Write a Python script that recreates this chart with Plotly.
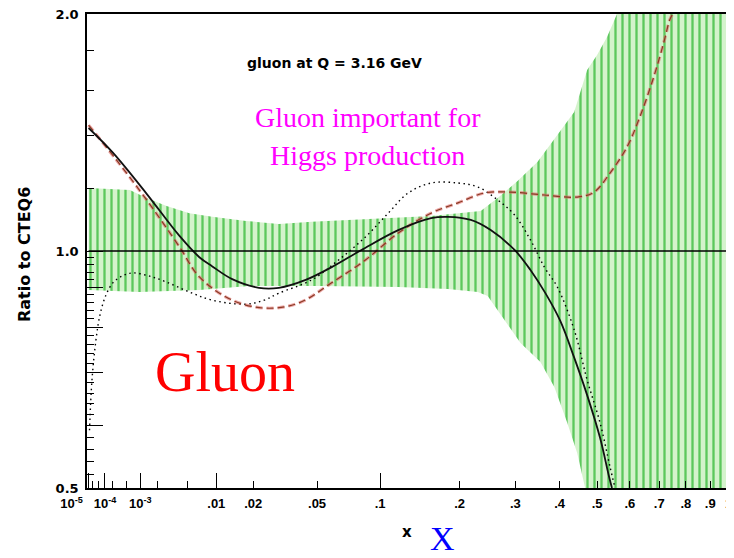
import plotly.graph_objects as go

# ---------------- data ----------------
x_tick_vals = [1e-5, 1e-4, 1e-3, 0.01, 0.02, 0.05, 0.1, 0.2, 0.3, 0.4, 0.5, 0.6, 0.7, 0.8, 0.9, 1.0]
x_tick_text = ["", "10<sup>-4</sup>", "10<sup>-3</sup>", ".01", ".02", ".05", ".1",
               ".2", ".3", ".4", ".5", ".6", ".7", ".8", ".9", ""]
x_minor_vals = [2e-5, 5e-5, 2e-4, 5e-4, 2e-3, 5e-3]
x_decade_vals = [1e-5, 1e-4, 1e-3, 1e-2, 1e-1, 1.0]
x_decade_text = ["10<sup>-5</sup>", "", "", "", "", ""]
x_end_label = "1"

y_tick_vals = [0.5, 0.6, 0.7, 0.8, 0.9, 1.0, 2.0]
y_tick_text = ["0.5", "", "", "", "", "1.0", "2.0"]
y_minor_vals = [0.52, 0.54, 0.56, 0.58, 0.62, 0.64, 0.66, 0.68, 0.72, 0.74, 0.76, 0.78,
                0.82, 0.84, 0.86, 0.88, 0.92, 0.94, 0.96, 0.98, 1.2, 1.4, 1.6, 1.8]

# solid black curve
solid_x = [1e-5, 1.99e-4, 1.32e-3, 4.06e-3, 6.83e-3, 9.18e-3, 0.01375, 0.0220, 0.0299, 0.0433,
           0.0596, 0.0828, 0.1189, 0.1588, 0.1824, 0.2180, 0.2525, 0.2985, 0.3320, 0.3657,
           0.4015, 0.4370, 0.4718, 0.5084, 0.5348, 0.5438]
solid_y = [1.433, 1.333, 1.182, 1.045, 0.982, 0.956, 0.921, 0.898, 0.898, 0.919,
           0.954, 1.003, 1.063, 1.101, 1.105, 1.095, 1.063, 1.003, 0.946, 0.884,
           0.815, 0.732, 0.656, 0.579, 0.517, 0.500]

# dotted black curve
dotted_x = [1.2e-5, 1.9e-5, 3.5e-5, 5.82e-5, 1.093e-4, 1.99e-4, 3.73e-4, 6.95e-4, 1.49e-3, 2.74e-3,
            5.32e-3, 9.18e-3, 0.01772, 0.02385, 0.02994, 0.0468, 0.0645, 0.0863, 0.1082, 0.1301,
            0.1588, 0.1974, 0.2297, 0.2654, 0.2985, 0.3320, 0.3634, 0.3942, 0.4370, 0.4718,
            0.5084, 0.5378, 0.5530]
dotted_y = [0.592, 0.686, 0.771, 0.829, 0.879, 0.911, 0.929, 0.938, 0.929, 0.913,
            0.887, 0.866, 0.856, 0.866, 0.884, 0.919, 0.974, 1.042, 1.117, 1.185,
            1.220, 1.220, 1.206, 1.161, 1.111, 1.033, 0.954, 0.900, 0.794, 0.686,
            0.605, 0.532, 0.500]

# red dashed curve
dashed_x = [1e-5, 2.31e-4, 1.32e-3, 4.06e-3, 6.83e-3, 0.01375, 0.02461, 0.03955, 0.05955, 0.08626,
            0.1189, 0.1588, 0.1974, 0.2418, 0.2904, 0.3634, 0.4449, 0.4913, 0.5378, 0.5904,
            0.6328, 0.6807, 0.7163, 0.7383, 0.7494]
dashed_y = [1.445, 1.313, 1.161, 1.012, 0.927, 0.866, 0.846, 0.859, 0.911, 0.974,
            1.054, 1.117, 1.151, 1.185, 1.188, 1.178, 1.171, 1.188, 1.256, 1.355,
            1.480, 1.664, 1.838, 1.965, 2.000]

# green uncertainty band
band_up_x = [1e-5, 5.94e-4, 1.32e-3, 2.74e-3, 5.32e-3, 9.18e-3, 0.01772, 0.02994, 0.0468, 0.0863,
             0.1588, 0.2348, 0.2654, 0.3046, 0.3474, 0.3942, 0.4370, 0.4718, 0.4998, 0.5289,
             0.5591, 0.70, 1.0]
band_up_y = [1.202, 1.195, 1.168, 1.141, 1.117, 1.105, 1.092, 1.082, 1.089, 1.098,
             1.108, 1.124, 1.168, 1.227, 1.297, 1.404, 1.502, 1.698, 1.774, 1.870,
             2.0, 2.0, 2.0]
band_lo_x = [1e-5, 9.7e-4, 6.83e-3, 0.01865, 0.0510, 0.1189, 0.1824, 0.2297, 0.2471, 0.2654,
             0.2845, 0.3108, 0.3542, 0.3869, 0.4190, 0.4449, 0.4663, 0.60, 1.0]
band_lo_y = [0.892, 0.887, 0.892, 0.903, 0.903, 0.900, 0.895, 0.887, 0.877, 0.841,
             0.805, 0.764, 0.723, 0.672, 0.605, 0.554, 0.500, 0.500, 0.500]

ref_x = [1e-5, 1.0]
ref_y = [1.0, 1.0]


# the original figure uses an x**(1/3) scaled x axis
def xs(vals):
    return [v ** (1.0 / 3.0) for v in vals]


fig = go.Figure()

# band
fig.add_trace(go.Scatter(
    x=xs(band_up_x) + xs(band_lo_x)[::-1],
    y=band_up_y + band_lo_y[::-1],
    mode="lines", line=dict(width=0, color="rgba(0,0,0,0)"),
    fill="toself",
    fillpattern=dict(shape="|", fgcolor="#5cc85c", bgcolor="#d4f3cc",
                     size=7, solidity=0.33, fillmode="replace"),
    hoverinfo="skip", showlegend=False))

# reference line at 1
fig.add_trace(go.Scatter(x=xs(ref_x), y=ref_y, mode="lines",
                         line=dict(color="black", width=1.5),
                         xaxis="x2", showlegend=False, hoverinfo="skip"))

# dotted
fig.add_trace(go.Scatter(x=xs(dotted_x), y=dotted_y, mode="lines",
                         line=dict(color="black", width=1.4, dash="1.5px,3.5px", shape="spline"),
                         showlegend=False))
# dashed (pink halo + dark core)
fig.add_trace(go.Scatter(x=xs(dashed_x), y=dashed_y, mode="lines",
                         line=dict(color="rgba(225,110,110,0.6)", width=3.2, dash="7px,4px", shape="spline"),
                         showlegend=False))
fig.add_trace(go.Scatter(x=xs(dashed_x), y=dashed_y, mode="lines",
                         line=dict(color="#8a3a24", width=1.2, dash="7px,4px", shape="spline"),
                         showlegend=False))
# solid
fig.add_trace(go.Scatter(x=xs(solid_x), y=solid_y, mode="lines",
                         line=dict(color="#111111", width=1.8, shape="spline"),
                         showlegend=False))

x_range = [0.0191, 1.0015]
tick_font = dict(family="Liberation Sans", size=13, color="black", weight="bold")

# the page body adds an 8 px offset, so the figure is 8 px smaller than the window
fig.update_layout(
    width=726, height=550,
    margin=dict(l=79, r=0, t=6, b=70, autoexpand=False),
    paper_bgcolor="white", plot_bgcolor="white",
    xaxis=dict(
        range=x_range, showgrid=False, zeroline=False, automargin=False,
        tickmode="array", tickvals=xs(x_tick_vals), ticktext=x_tick_text, tickangle=0,
        ticks="inside", ticklen=7, tickwidth=1, tickcolor="black",
        showline=True, linecolor="black", linewidth=1.5, mirror=True,
        tickfont=tick_font, ticklabelstandoff=3, ticklabeloverflow="allow",
        minor=dict(tickmode="array", tickvals=xs(x_minor_vals), ticks="inside",
                   ticklen=7, tickwidth=1, tickcolor="black"),
    ),
    xaxis2=dict(
        range=x_range, overlaying="x", anchor="y", side="bottom",
        showgrid=False, zeroline=False, automargin=False,
        tickmode="array", tickvals=xs(x_decade_vals), ticktext=x_decade_text, tickangle=0,
        showticklabels=True, tickfont=tick_font, ticklabelshift=-17, ticklabelstandoff=3,
        ticklabeloverflow="allow",
        ticks="inside", ticklen=15, tickwidth=1, tickcolor="black",
        showline=True, linecolor="black", linewidth=1.5, mirror=True,
    ),
    yaxis=dict(
        type="log", range=[-0.30103, 0.30103], showgrid=False, zeroline=False,
        automargin=False,
        tickmode="array", tickvals=y_tick_vals, ticktext=y_tick_text,
        ticks="inside", ticklen=16, tickwidth=1, tickcolor="black",
        showline=True, linecolor="black", linewidth=1.5, mirror=True,
        tickfont=dict(family="DejaVu Sans", size=13, color="black", weight="bold"),
        ticklabelstandoff=4, ticklabeloverflow="allow",
        minor=dict(tickmode="array", tickvals=y_minor_vals, ticks="inside",
                   ticklen=7, tickwidth=1, tickcolor="black"),
    ),
    annotations=[
        dict(text=x_end_label, x=0.992, y=-0.012, xref="paper", yref="paper",
             showarrow=False, xanchor="center", yanchor="top", font=tick_font),
        dict(text="Ratio to CTEQ6", x=-0.0958, y=0.4916, xref="paper", yref="paper",
             textangle=-90, showarrow=False, xanchor="center", yanchor="middle",
             font=dict(family="DejaVu Sans", size=16, color="black", weight="bold")),
        dict(text="x", x=0.4946, y=-0.0928, xref="paper", yref="paper", showarrow=False,
             xanchor="center", yanchor="middle",
             font=dict(family="DejaVu Sans", size=15, color="black", weight="bold")),
        dict(text="X", x=0.5502, y=-0.107, xref="paper", yref="paper", showarrow=False,
             xanchor="center", yanchor="middle",
             font=dict(family="Liberation Serif", size=34, color="#0000ff")),
        dict(text="gluon at Q = 3.16 GeV", x=0.3833, y=0.8966, xref="paper", yref="paper",
             showarrow=False, xanchor="center", yanchor="middle",
             font=dict(family="DejaVu Sans", size=14, color="black", weight="bold")),
        dict(text="Gluon important for", x=0.4343, y=0.7806, xref="paper", yref="paper",
             showarrow=False, xanchor="center", yanchor="middle",
             font=dict(family="Liberation Serif", size=28, color="#ff00ff")),
        dict(text="Higgs production", x=0.4343, y=0.7025, xref="paper", yref="paper",
             showarrow=False, xanchor="center", yanchor="middle",
             font=dict(family="Liberation Serif", size=28, color="#ff00ff")),
        dict(text="Gluon", x=0.2133, y=0.2447, xref="paper", yref="paper",
             showarrow=False, xanchor="center", yanchor="middle",
             font=dict(family="Liberation Serif", size=56, color="#ff0000")),
    ],
)

fig.write_html("out.html")
